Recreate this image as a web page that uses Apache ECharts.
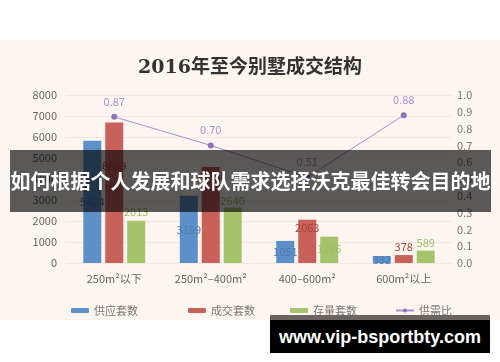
<!DOCTYPE html>
<html><head><meta charset="utf-8">
<script src="https://cdn.jsdelivr.net/npm/echarts@6/dist/echarts.min.js"></script>
<style>
html,body{margin:0;padding:0;background:#fff;width:500px;height:362px;overflow:hidden;font-family:"Noto Sans CJK SC","Noto Sans",sans-serif;}
#bg{position:absolute;left:0;top:40px;width:500px;height:280px;background:#fdf6f0;}
#chart{position:absolute;left:0;top:0;width:500px;height:362px;}
#banner{position:absolute;left:10px;top:150px;width:481px;height:62px;background:rgba(0,0,0,0.64);color:#fff;font-weight:bold;font-size:20px;line-height:62px;text-align:center;white-space:nowrap;letter-spacing:0px;font-family:"Noto Sans CJK SC",sans-serif;overflow:hidden;}
#wmstrip{position:absolute;left:270px;top:315px;width:220px;height:5px;background:#6a6560;}
#wm{position:absolute;left:270px;top:320px;width:220px;height:33px;background:#000;color:#fff;font-weight:bold;font-size:18px;line-height:34px;text-align:center;white-space:nowrap;font-family:"Liberation Sans","Noto Sans",sans-serif;}
</style></head>
<body>
<div id="bg"></div>
<div id="chart"></div>
<div id="banner">如何根据个人发展和球队需求选择沃克最佳转会目的地</div>
<div id="wmstrip"></div>
<div id="wm">www.vip-bsportbty.com</div>
<script>
var categories = ['250m²以下', '250m²–400m²', '400–600m²', '600m²以上'];
var supply = [5824, 3199, 1051, 332];
var deals = [6689, 4570, 2063, 378];
var stock = [2013, 2640, 1256, 589];
var ratio = [0.87, 0.70, 0.51, 0.88];
var leftTicks = [0, 8000, 1000];
var rightTicks = [0, 1, 0.1];

var chart = echarts.init(document.getElementById('chart'));
var fontFam = '"Noto Sans CJK SC","Noto Sans",sans-serif';
function items(vals, cfgs) {
  return vals.map(function (v, i) { return { value: v, label: cfgs[i] }; });
}
var redLab = [
  { position: 'insideTop', distance: 38 },
  { position: 'insideTop', distance: 3 },
  { position: 'insideTop', distance: 3 },
  { position: 'top', distance: 3 }
];
var greenLab = [
  { position: 'top', distance: 3 },
  { position: 'top', distance: 1 },
  { position: 'insideTop', distance: 7 },
  { position: 'top', distance: 2 }
];
var names = ['供应套数', '成交套数', '存量套数', '供需比'];
var legLeft = [66, 183, 285, 390];
var option = {
  animation: false,
  title: {
    text: '2016年至今别墅成交结构', left: 'center', top: 54,
    textStyle: { fontSize: 19, fontWeight: 'bold', color: '#333', fontFamily: '"DejaVu Serif","Noto Sans CJK SC",serif' }
  },
  legend: names.map(function (n, i) {
    return {
      data: [n], left: legLeft[i], top: 300, itemWidth: 18, itemHeight: 5, itemGap: 4,
      textStyle: { fontSize: 11, color: '#777', fontFamily: fontFam }
    };
  }),
  grid: { left: 66, right: 48, top: 95, bottom: 99 },
  xAxis: {
    type: 'category', data: categories,
    axisLine: { show: false }, axisTick: { show: false },
    axisLabel: { color: '#666', fontSize: 11, margin: 10, fontFamily: fontFam }
  },
  yAxis: [
    {
      type: 'value', min: leftTicks[0], max: leftTicks[1], interval: leftTicks[2],
      axisLine: { show: false }, axisTick: { show: false },
      axisLabel: { color: '#666', fontSize: 11, margin: 9, fontFamily: fontFam,
        formatter: function (v) { return String(v); } },
      splitLine: { lineStyle: { color: '#f1e9e1' } }
    },
    {
      type: 'value', min: rightTicks[0], max: rightTicks[1], interval: rightTicks[2],
      axisLine: { show: false }, axisTick: { show: false },
      axisLabel: { color: '#777', fontSize: 11, margin: 5, fontFamily: fontFam,
        formatter: function (v) { return v.toFixed(1); } },
      splitLine: { show: false }
    }
  ],
  series: [
    {
      name: names[0], type: 'bar', data: supply, barWidth: 18, barGap: '22%', barCategoryGap: '36%',
      itemStyle: { color: '#5d90c8' },
      label: { show: true, position: 'inside', color: '#4f79ae', fontSize: 11, fontFamily: fontFam }
    },
    {
      name: names[1], type: 'bar', data: items(deals, redLab), barWidth: 18, barGap: '22%',
      itemStyle: { color: '#c9615b' },
      label: { show: true, color: '#a9403c', fontSize: 11, fontFamily: fontFam }
    },
    {
      name: names[2], type: 'bar', data: items(stock, greenLab), barWidth: 18, barGap: '22%',
      itemStyle: { color: '#a6c36c' },
      label: { show: true, color: '#9bbd66', fontSize: 11, fontFamily: fontFam }
    },
    {
      name: names[3], type: 'line', yAxisIndex: 1, data: ratio,
      symbol: 'circle', symbolSize: 6,
      lineStyle: { color: '#a690cc', width: 1 }, itemStyle: { color: '#8f73bb' },
      label: { show: true, position: 'top', distance: 7, color: '#a890cc', fontSize: 11, fontFamily: fontFam,
        formatter: function (p) { return p.value.toFixed(2); } }
    }
  ]
};
chart.setOption(option);
</script>
</body></html>
